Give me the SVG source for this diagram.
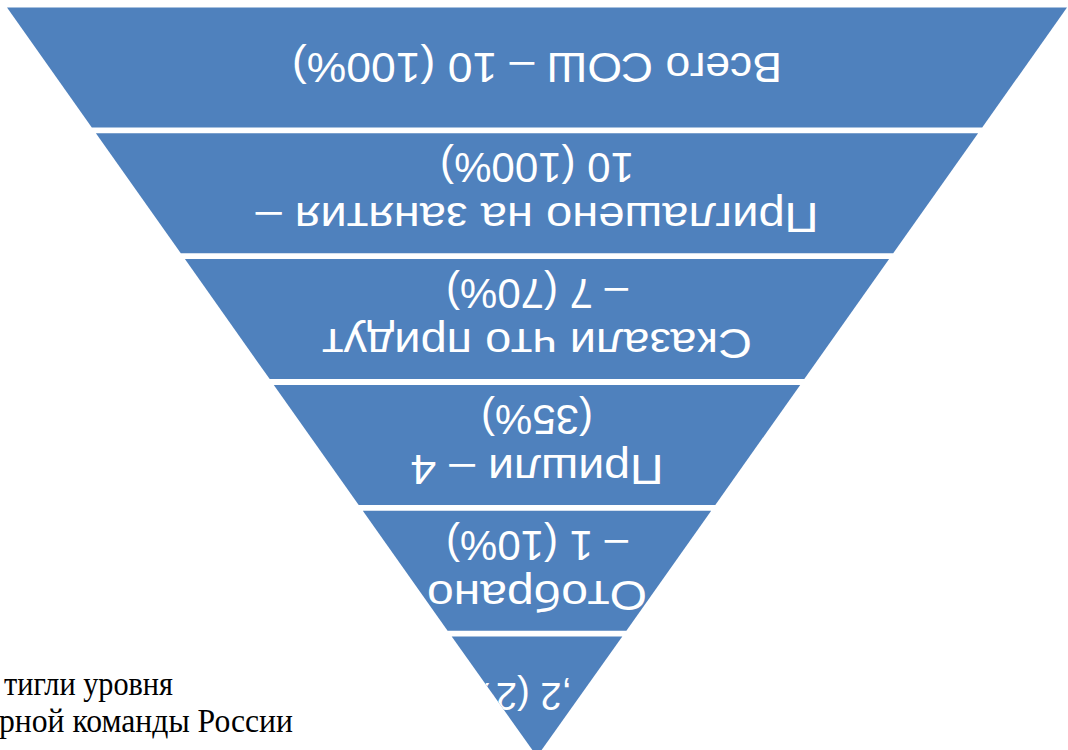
<svg xmlns="http://www.w3.org/2000/svg" width="1068" height="750" viewBox="0 0 1068 750">
<style>
.lay{fill:#4F81BD}
.t{font-family:"Liberation Sans",Arial,sans-serif;font-size:42px;fill:#FFFFFF;text-anchor:middle}
.t6{font-family:"Liberation Sans",Arial,sans-serif;font-size:38px;fill:#FFFFFF;text-anchor:start}
.note{font-family:"Liberation Serif","Times New Roman",serif;font-size:33px;fill:#000000}
</style>
<defs>
<clipPath id="c1"><polygon points="7,7.5 1067,7.5 982.2,127.5 91.8,127.5"/></clipPath>
<clipPath id="c2"><polygon points="95.9,133.3 978.1,133.3 893.2,253.3 180.8,253.3"/></clipPath>
<clipPath id="c3"><polygon points="184.9,259.1 889.1,259.1 804.3,379.1 269.7,379.1"/></clipPath>
<clipPath id="c4"><polygon points="273.8,384.9 800.2,384.9 715.3,504.9 358.7,504.9"/></clipPath>
<clipPath id="c5"><polygon points="362.8,510.7 711.2,510.7 626.4,630.7 447.6,630.7"/></clipPath>
<clipPath id="c6"><polygon points="451.7,636.5 622.3,636.5 537,756.5"/></clipPath>
</defs>
<rect x="0" y="0" width="1068" height="750" fill="#FFFFFF"/>
<g id="connectors"></g>
<g id="layer1">
<polygon class="lay" points="7,7.5 1067,7.5 982.2,127.5 91.8,127.5"/>
<g clip-path="url(#c1)"><g transform="rotate(180 537 67.5)">
<text class="t" x="537" y="82.5" textLength="490" lengthAdjust="spacingAndGlyphs">Всего СОШ – 10 (100%)</text>
</g></g>
</g>
<g id="layer2">
<polygon class="lay" points="95.9,133.3 978.1,133.3 893.2,253.3 180.8,253.3"/>
<g clip-path="url(#c2)"><g transform="rotate(180 537 193.3)">
<text class="t" x="537" y="183.3" textLength="563" lengthAdjust="spacingAndGlyphs">Приглашено на занятия –</text>
<text class="t" x="537" y="233.3">10 (100%)</text>
</g></g>
</g>
<g id="layer3">
<polygon class="lay" points="184.9,259.1 889.1,259.1 804.3,379.1 269.7,379.1"/>
<g clip-path="url(#c3)"><g transform="rotate(180 537 319.1)">
<text class="t" x="537" y="309.1" textLength="430" lengthAdjust="spacingAndGlyphs">Сказали что придут</text>
<text class="t" x="537" y="359.1">– 7 (70%)</text>
</g></g>
</g>
<g id="layer4">
<polygon class="lay" points="273.8,384.9 800.2,384.9 715.3,504.9 358.7,504.9"/>
<g clip-path="url(#c4)"><g transform="rotate(180 537 444.9)">
<text class="t" x="537" y="434.9" textLength="253" lengthAdjust="spacingAndGlyphs">Пришли – 4</text>
<text class="t" x="537" y="484.9">(35%)</text>
</g></g>
</g>
<g id="layer5">
<polygon class="lay" points="362.8,510.7 711.2,510.7 626.4,630.7 447.6,630.7"/>
<g clip-path="url(#c5)"><g transform="rotate(180 537 570.7)">
<text class="t" x="537" y="560.7" textLength="220" lengthAdjust="spacingAndGlyphs">Отобрано</text>
<text class="t" x="537" y="610.7">– 1 (10%)</text>
</g></g>
</g>
<g id="layer6">
<polygon class="lay" points="451.7,636.5 622.3,636.5 537,756.5"/>
<g clip-path="url(#c6)"><g transform="translate(572 683) rotate(180)">
<text class="t6" x="0" y="0">,2 (2%)</text>
</g></g>
</g>
<g id="note">
<text class="note" x="4" y="695" textLength="169" lengthAdjust="spacingAndGlyphs">тигли уровня</text>
<text class="note" x="-1" y="732" textLength="294" lengthAdjust="spacingAndGlyphs">рной команды России</text>
</g>
</svg>
